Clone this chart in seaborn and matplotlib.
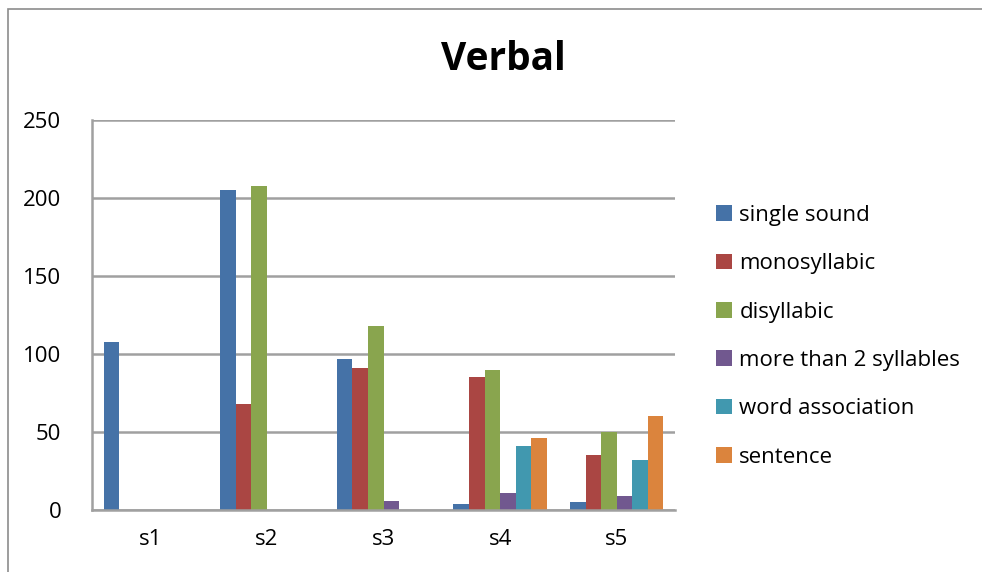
import pandas as pd
import matplotlib.pyplot as plt
import seaborn as sns
from matplotlib.patches import Rectangle, Patch

# values
sessions = ['s1', 's2', 's3', 's4', 's5']
series = ['single sound', 'monosyllabic', 'disyllabic',
          'more than 2 syllables', 'word association', 'sentence']
single_sound = [108, 205, 97, 4, 5]
monosyllabic = [0, 68, 91, 85, 35]
disyllabic = [0, 208, 118, 90, 50]
more_than_2 = [0, 0, 6, 11, 9]
word_association = [0, 0, 0, 41, 32]
sentence = [0, 0, 0, 46, 60]
y_ticks = [0, 50, 100, 150, 200, 250]

colors = ['#4572A7', '#AA4643', '#89A54E', '#71588F', '#4198AF', '#DB843D']

values = [single_sound, monosyllabic, disyllabic, more_than_2, word_association, sentence]
rows = []
for name, vals in zip(series, values):
    for s, v in zip(sessions, vals):
        rows.append({'Session': s, 'Type': name, 'Count': v})
df = pd.DataFrame(rows)

sns.set_style('white')
plt.rcParams['font.family'] = ['Open Sans', 'DejaVu Sans']
plt.rcParams['text.color'] = 'black'

fig = plt.figure(figsize=(9.82, 5.72), dpi=100)
ax = fig.add_axes([92 / 982, 62 / 572, 583 / 982, 390 / 572])

sns.barplot(data=df, x='Session', y='Count', hue='Type', hue_order=series,
            palette=colors, width=0.8, ax=ax, saturation=1, legend=False,
            edgecolor='none')

ax.set_ylim(0, 250)
ax.set_xlim(-0.5, 4.5)
ax.set_yticks(y_ticks)
ax.yaxis.grid(True, color='#A0A0A0', linewidth=1.8)
ax.set_axisbelow(True)
ax.set_xlabel('')
ax.set_ylabel('')
ax.tick_params(axis='both', length=0, labelsize=16, colors='black')
ax.tick_params(axis='y', pad=22)
ax.tick_params(axis='x', pad=14)
for side in ['top', 'right']:
    ax.spines[side].set_visible(False)
for side in ['left', 'bottom']:
    ax.spines[side].set_color('#A0A0A0')
    ax.spines[side].set_linewidth(1.8)

fig.text(503 / 982, 1 - 60 / 572, 'Verbal', ha='center', va='center',
         fontsize=28, fontweight='bold', color='black')

handles = [Patch(facecolor=c, edgecolor='none') for c in colors]
fig.legend(handles, series, loc='upper left', bbox_to_anchor=(716 / 982, 1 - 205 / 572),
           frameon=False, fontsize=16, labelspacing=1.23, handlelength=0.7,
           handleheight=0.7, handletextpad=0.35, borderaxespad=0, borderpad=0,
           labelcolor='black')

# outer chart frame
fig.patches.append(Rectangle((8 / 982, -0.05), 1.0, 1 - 9 / 572 + 0.05,
                             transform=fig.transFigure, fill=False,
                             edgecolor='#8C8C8C', linewidth=1.2))

fig.savefig('out.png', dpi=100)
